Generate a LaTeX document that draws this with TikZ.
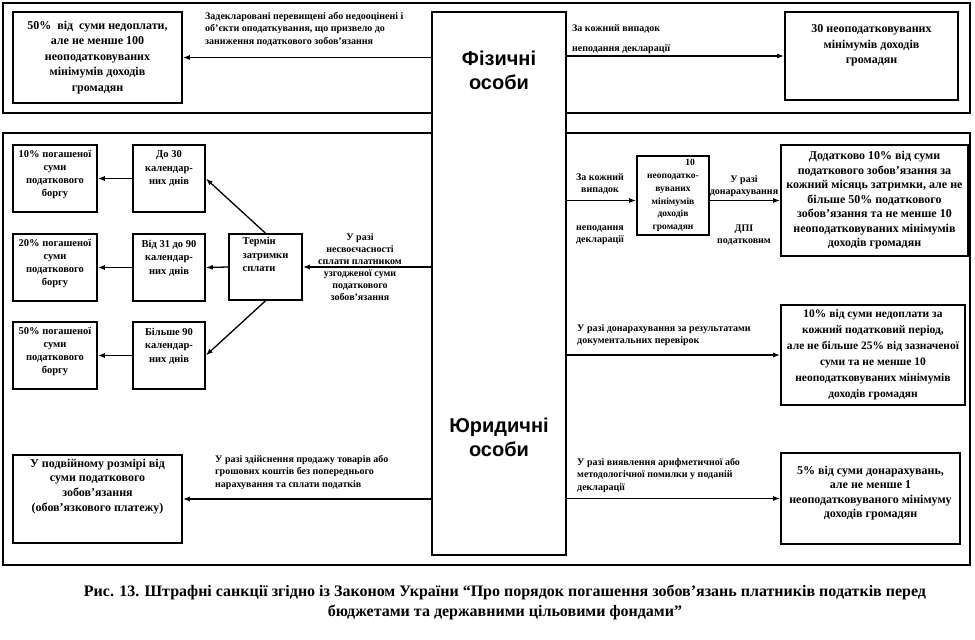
\documentclass[tikz,border=0pt]{standalone}
\usepackage{fontspec}
\setmainfont{Liberation Serif}
\newfontfamily\headfont{Liberation Sans}
\usetikzlibrary{arrows.meta}

\begin{document}
\begin{tikzpicture}[x=1pt, y=-1pt,
  penbox/.style={draw, line width=1.6pt, inner sep=0pt, align=center, font=\bfseries\fontsize{12}{15.5}\selectfont},
  smallbox/.style={draw, line width=1.6pt, inner sep=0pt, align=center, font=\bfseries\fontsize{10.5}{13.5}\selectfont},
  lbl/.style={inner sep=0pt, align=left, font=\bfseries\fontsize{10}{12.5}\selectfont},
  clbl/.style={inner sep=0pt, align=center, font=\bfseries\fontsize{10}{12}\selectfont},
  frame/.style={line width=1.8pt},
  arr/.style={-{Latex[length=7pt,width=5pt]}, line width=1.3pt},
]
  \useasboundingbox (0,0) rectangle (975,640);

  % outer frames
  \draw[frame] (3,3) rectangle (970,113);
  \draw[frame] (3,133) rectangle (970,565);

  % central column
  \node[draw, line width=1.6pt, fill=white, minimum width=134pt, minimum height=543pt] (cent) at (499,283.5) {};
  \node[font=\headfont\bfseries\fontsize{20}{24}\selectfont, align=center] (fiz) at (499,70) {Фізичні\\особи};
  \node[font=\headfont\bfseries\fontsize{20}{24}\selectfont, align=center] (yur) at (499,437) {Юридичні\\особи};

  % physical persons
  \node[penbox, minimum width=169pt, minimum height=91pt] (tlbox) at (97.5,57.5) {50\%\ \ від\ \ суми недоплати,\\але не менше 100\\неоподатковуваних\\мінімумів доходів\\громадян};
  \node[penbox, minimum width=173pt, minimum height=88pt, text depth=23pt] (trbox) at (871.5,56) {30 неоподатковуваних\\мінімумів доходів\\громадян};
  \node[lbl, anchor=north west] (toplbl) at (205,12) {Задекларовані перевищені або недооцінені і\\об’єкти оподаткування, що призвело до\\заниження податкового зобов’язання};
  \node[lbl, anchor=north west, font=\bfseries\fontsize{10}{20}\selectfont] (trlbl) at (572,24) {За кожний випадок\\неподання декларації};

  % late payment
  \node[smallbox, minimum width=73pt, minimum height=66pt, align=left, text depth=25pt] (termin) at (265.5,267) {Термін\\затримки\\сплати};
  \node[smallbox, minimum width=72pt, minimum height=67pt, text depth=21pt] (do30) at (169,178.5) {До 30\\календар-\\них днів};
  \node[smallbox, minimum width=72pt, minimum height=67pt, text depth=21pt] (vid31) at (169,267.5) {Від 31 до 90\\календар-\\них днів};
  \node[smallbox, minimum width=72pt, minimum height=67pt, text depth=21pt] (bilshe) at (169,355.5) {Більше 90\\календар-\\них днів};
  \node[smallbox, minimum width=84pt, minimum height=67pt, text depth=11pt, font=\bfseries\fontsize{10.5}{13}\selectfont] (p10) at (55,178.5) {10\% погашеної\\суми\\податкового\\боргу};
  \node[smallbox, minimum width=84pt, minimum height=67pt, text depth=11pt, font=\bfseries\fontsize{10.5}{13}\selectfont] (p20) at (55,267.5) {20\% погашеної\\суми\\податкового\\боргу};
  \node[smallbox, minimum width=84pt, minimum height=67pt, text depth=11pt, font=\bfseries\fontsize{10.5}{13}\selectfont] (p50) at (55,355.5) {50\% погашеної\\суми\\податкового\\боргу};
  \node[clbl, anchor=north] (latelbl) at (360,233) {У разі\\несвоєчасності\\сплати платником\\узгодженої суми\\податкового\\зобов’язання};

  % legal persons, right side
  \node[smallbox, minimum width=72pt, minimum height=79pt, font=\bfseries\fontsize{9.5}{12.8}\selectfont] (box10) at (673,195.5) {\hspace*{34pt}10\\неоподатко-\\вуваних\\мінімумів\\доходів\\громадян};
  \node[penbox, minimum width=187pt, minimum height=111pt, font=\bfseries\fontsize{12}{14.5}\selectfont] (bigbox) at (874.5,200.5) {Додатково 10\% від суми\\податкового зобов’язання за\\кожний місяць затримки, але не\\більше 50\% податкового\\зобов’язання та не менше 10\\неоподатковуваних мінімумів\\доходів громадян};
  \node[clbl, anchor=north] (r1lbl) at (600,173) {За кожний\\випадок};
  \node[clbl, anchor=north] (r1lblb) at (600,226) {неподання\\декларації};
  \node[clbl, anchor=north] (r2lbl) at (744,175) {У разі\\донарахування};
  \node[clbl, anchor=north] (r2lblb) at (744,225) {ДПІ\\податковим};

  \node[penbox, minimum width=184pt, minimum height=100pt, font=\bfseries\fontsize{11.5}{16}\selectfont] (midbox) at (873,355) {10\% від суми недоплати за\\кожний податковий період,\\але не більше 25\% від зазначеної\\суми та не менше 10\\неоподатковуваних мінімумів\\доходів громадян};
  \node[lbl, anchor=north west] (r3lbl) at (577,324) {У разі донарахування за результатами\\документальних перевірок};

  \node[penbox, minimum width=169pt, minimum height=88pt, font=\bfseries\fontsize{12}{14.7}\selectfont, text depth=28pt] (blbox) at (97.5,499) {У подвійному розмірі від\\суми податкового\\зобов’язання\\(обов’язкового платежу)};
  \node[lbl, anchor=north west] (bllbl) at (215,455) {У разі здійснення продажу товарів або\\грошових коштів без попереднього\\нарахування та сплати податків};

  \node[penbox, minimum width=179pt, minimum height=91pt, font=\bfseries\fontsize{12}{14.5}\selectfont, text depth=13pt] (brbox) at (870.5,498.5) {5\% від суми донарахувань,\\але не менше 1\\неоподатковуваного мінімуму\\доходів громадян};
  \node[lbl, anchor=north west] (brlbl) at (577,458) {У разі виявлення арифметичної або\\методологічної помилки у поданій\\декларації};

  % caption
  \node[align=center, inner sep=0pt, font=\bfseries\fontsize{16}{20}\selectfont] (caption) at (505,602) {Рис. 13. Штрафні санкції згідно із Законом України “Про порядок погашення зобов’язань платників податків перед\\бюджетами та державними цільовими фондами”};

  \draw[arr] (cent.west |- tlbox.east) -- (tlbox.east);
  \draw[arr] (cent.east |- trbox.west) -- (trbox.west);
  \draw[arr] (cent.west |- termin.east) -- (termin.east);
  \draw[arr] (termin.north) -- (do30.east);
  \draw[arr] (termin.west) -- (vid31.east);
  \draw[arr] (termin.south) -- (bilshe.east);
  \draw[arr] (do30.west) -- (p10.east);
  \draw[arr] (vid31.west) -- (p20.east);
  \draw[arr] (bilshe.west) -- (p50.east);
  \draw[arr] (cent.east |- bigbox.west) -- (box10.west |- bigbox.west);
  \draw[arr] (box10.east |- bigbox.west) -- (bigbox.west);
  \draw[arr] (cent.east |- midbox.west) -- (midbox.west);
  \draw[arr] (cent.west |- blbox.east) -- (blbox.east);
  \draw[arr] (cent.east |- brbox.west) -- (brbox.west);
\end{tikzpicture}
\end{document}
